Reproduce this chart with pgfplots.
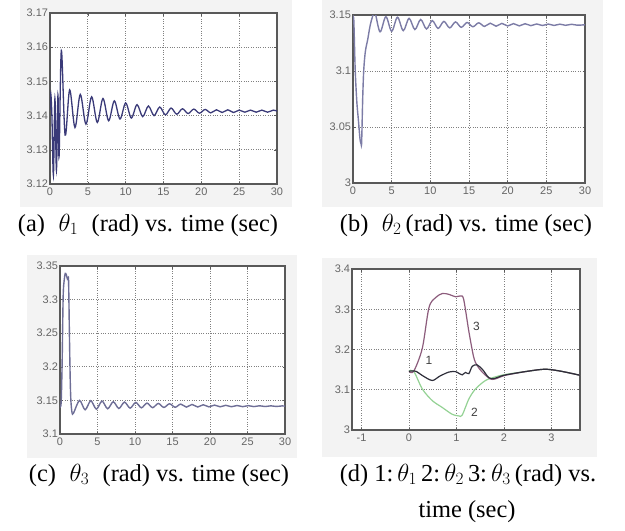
\documentclass[border=0pt]{standalone}
\usepackage{fontspec}
\setmainfont{Liberation Serif}
\newfontfamily\ticksf{Liberation Sans}
\usepackage{pgfplots}
\pgfplotsset{compat=1.18}
\definecolor{linea}{HTML}{3A3A78}
\definecolor{lineb}{HTML}{7C7CA6}
\definecolor{linec}{HTML}{6E6E96}
\definecolor{done}{HTML}{2E2E3A}
\definecolor{dtwo}{HTML}{94D294}
\definecolor{dthree}{HTML}{8C5C7C}
\definecolor{panelbg}{HTML}{F3F3F3}
\pgfplotsset{
  panel/.style={
    scale only axis,
    axis background/.style={fill=white},
    axis line style={black!65, line width=1.3bp},
    grid=major,
    major grid style={black!50, dotted, line width=0.7bp},
    tick style={black!65, line width=0.6bp},
    major tick length=2.5bp,
    tick align=inside,
    tick label style={font=\ticksf\fontsize{11}{11}\selectfont, text=black!60},
    /pgf/number format/assume math mode=true,
    xticklabel style={yshift=-0.5bp},
    yticklabel style={xshift=1.5bp},
    clip=true,
  }
}
\begin{document}
\begin{tikzpicture}
\path[use as bounding box] (0,0) rectangle (625bp,-531bp);
\fill[panelbg] (20bp,0bp) rectangle (292bp,-207bp);
\fill[panelbg] (322bp,0bp) rectangle (603bp,-207bp);
\fill[panelbg] (27bp,-255bp) rectangle (297bp,-458bp);
\fill[panelbg] (322bp,-258bp) rectangle (597bp,-457bp);

% (a)
\begin{axis}[panel, at={(50bp,-13bp)}, anchor=north west,
  width=227bp, height=171bp,
  xmin=0, xmax=30, ymin=3.12, ymax=3.17,
  xtick={0,5,10,15,20,25,30},
  ytick={3.12,3.13,3.14,3.15,3.16,3.17},
  yticklabel style={/pgf/number format/.cd, fixed, fixed zerofill, precision=2},
]
\addplot[linea, line width=1.3bp, smooth, tension=0.55] coordinates {
(0,3.1416) (0.1,3.1465) (0.25,3.140) (0.45,3.1225) (0.65,3.145) (0.85,3.124)
(1.05,3.146) (1.2,3.128) (1.5,3.159) (2.0,3.1343) (2.6,3.1475) (3.3,3.1365)
(4.0,3.1462) (4.75,3.1375) (5.5,3.1455) (6.25,3.1380) (7.0,3.1450) (7.75,3.1385)
(8.5,3.1443) (9.25,3.1390) (10.0,3.1437) (10.75,3.1393) (11.5,3.1432) (12.25,3.1397)
(13.0,3.1428) (13.75,3.1400) (14.5,3.1425) (15.25,3.1402) (16.0,3.1422) (16.75,3.1404)
(17.5,3.1420) (18.25,3.1406) (19.0,3.1419) (19.75,3.1407) (20.5,3.1418) (21.25,3.1408)
(22.0,3.1417) (22.75,3.1409) (23.5,3.1417) (24.25,3.1409) (25.0,3.1416) (25.75,3.1410)
(26.5,3.1416) (27.25,3.1410) (28.0,3.1416) (28.75,3.1410) (29.5,3.1416) (30,3.1413)
};
\end{axis}

% (b)
\begin{axis}[panel, at={(353bp,-15bp)}, anchor=north west,
  width=232bp, height=168bp,
  xmin=0, xmax=30, ymin=3, ymax=3.15,
  xtick={0,5,10,15,20,25,30},
  ytick={3,3.05,3.1,3.15},
]
\addplot[lineb, line width=1.4bp, smooth, tension=0.55] coordinates {
(0,3.1416) (0.1,3.146) (0.28,3.102) (0.49,3.073) (0.7,3.056) (0.91,3.039)
(1.05,3.035) (1.12,3.037) (1.26,3.077) (1.4,3.102) (1.61,3.118) (1.9,3.128)
(2.2,3.140) (2.5,3.148) (2.85,3.152) (3.5,3.135) (4.25,3.1485) (5.0,3.1355)
(5.75,3.148) (6.5,3.136) (7.25,3.147) (8.0,3.137) (8.75,3.146) (9.5,3.1375)
(10.25,3.145) (11.0,3.138) (11.75,3.1443) (12.5,3.1385) (13.25,3.1438) (14.0,3.139)
(14.75,3.1433) (15.5,3.1395) (16.25,3.143) (17.0,3.1398) (17.75,3.1427) (18.5,3.140)
(19.25,3.1425) (20.0,3.1402) (20.75,3.1423) (21.5,3.1403) (22.25,3.1422) (23.0,3.1405)
(23.75,3.142) (24.5,3.1406) (25.25,3.1419) (26.0,3.1407) (26.75,3.1418) (27.5,3.1408)
(28.25,3.1417) (29.0,3.1409) (30.0,3.1413)
};
\end{axis}

% (c)
\begin{axis}[panel, at={(60bp,-266bp)}, anchor=north west,
  width=225bp, height=168bp,
  xmin=0, xmax=30, ymin=3.1, ymax=3.35,
  xtick={0,5,10,15,20,25,30},
  ytick={3.1,3.15,3.2,3.25,3.3,3.35},
]
\addplot[linec, line width=1.4bp, smooth, tension=0.5] coordinates {
(0,3.1416) (0.15,3.146) (0.28,3.203) (0.42,3.304) (0.56,3.329) (0.7,3.339)
(0.84,3.337) (0.98,3.331) (1.08,3.333) (1.15,3.325) (1.26,3.245) (1.36,3.182)
(1.45,3.150) (1.6,3.132) (1.8,3.131) (2.6,3.150) (3.35,3.136) (4.1,3.1495)
(4.85,3.137) (5.6,3.149) (6.35,3.1375) (7.1,3.148) (7.85,3.138) (8.6,3.1475)
(9.35,3.1385) (10.1,3.147) (10.85,3.139) (11.6,3.146) (12.35,3.1392) (13.1,3.1455)
(13.85,3.1395) (14.6,3.145) (15.35,3.1398) (16.1,3.1445) (16.85,3.140) (17.6,3.144)
(18.35,3.1402) (19.1,3.1435) (19.85,3.1404) (20.6,3.143) (21.35,3.1405) (22.1,3.1427)
(22.85,3.1406) (23.6,3.1424) (24.35,3.1407) (25.1,3.1422) (25.85,3.1408) (26.6,3.142)
(27.35,3.1409) (28.1,3.1419) (28.85,3.141) (29.6,3.1418) (30,3.1415)
};
\end{axis}

% (d)
\begin{axis}[panel, at={(352bp,-269bp)}, anchor=north west,
  width=228bp, height=161bp,
  xmin=-1.2, xmax=3.6, ymin=3, ymax=3.4,
  xtick={-1,0,1,2,3},
  ytick={3,3.1,3.2,3.3,3.4},
]
\addplot[dtwo, line width=1.2bp, smooth, tension=0.5] coordinates {
(0,3.146) (0.1,3.146) (0.28,3.102) (0.49,3.073) (0.7,3.056) (0.91,3.039)
(1.05,3.035) (1.12,3.037) (1.26,3.077) (1.4,3.102) (1.61,3.123) (1.82,3.132)
(2.03,3.138) (2.5,3.146) (2.87,3.151) (3.2,3.146) (3.64,3.135)
};
\addplot[dthree, line width=1.2bp, smooth, tension=0.5] coordinates {
(0,3.146) (0.1,3.146) (0.28,3.203) (0.42,3.304) (0.56,3.329) (0.7,3.339)
(0.84,3.337) (0.98,3.331) (1.08,3.333) (1.15,3.325) (1.26,3.245) (1.36,3.182)
(1.43,3.161) (1.54,3.144) (1.71,3.127) (1.82,3.127) (2.03,3.136) (2.5,3.146)
(2.87,3.151) (3.2,3.146) (3.64,3.135)
};
\addplot[done, line width=1.2bp, smooth, tension=0.5] coordinates {
(0,3.146) (0.14,3.146) (0.3,3.134) (0.49,3.123) (0.65,3.134) (0.84,3.144)
(0.98,3.145) (1.06,3.140) (1.12,3.137) (1.19,3.143) (1.26,3.140) (1.33,3.158)
(1.43,3.162) (1.55,3.150) (1.68,3.130) (1.8,3.128) (2.0,3.136) (2.5,3.146)
(2.87,3.151) (3.2,3.146) (3.64,3.135)
};
\node[font=\ticksf\fontsize{12}{12}\selectfont, text=black!75] at (axis cs:0.42,3.172) {1};
\node[font=\ticksf\fontsize{12}{12}\selectfont, text=black!75] at (axis cs:1.42,3.257) {3};
\node[font=\ticksf\fontsize{12}{12}\selectfont, text=black!75] at (axis cs:1.38,3.044) {2};
\end{axis}

% captions
\node[font=\fontsize{24.5}{28}\selectfont] at (148bp,-225bp) {(a)\hspace{0.3em}\ $\theta_1$\hspace{0.3em}\ (rad) vs. time (sec)};
\node[font=\fontsize{24.5}{28}\selectfont] at (466bp,-225bp) {(b)\hspace{0.3em}\ $\theta_2$\,(rad) vs. time (sec)};
\node[font=\fontsize{24.5}{28}\selectfont] at (159bp,-475bp) {(c)\hspace{0.3em}\ $\theta_3$\hspace{0.3em}\ (rad) vs. time (sec)};
\node[font=\fontsize{24.5}{28}\selectfont] at (468bp,-475bp) {(d) 1:\,$\theta_1$\,2:\,$\theta_2$\,3:\,$\theta_3$\,(rad) vs.};
\node[font=\fontsize{24.5}{28}\selectfont] at (467bp,-512bp) {time (sec)};
\end{tikzpicture}
\end{document}
